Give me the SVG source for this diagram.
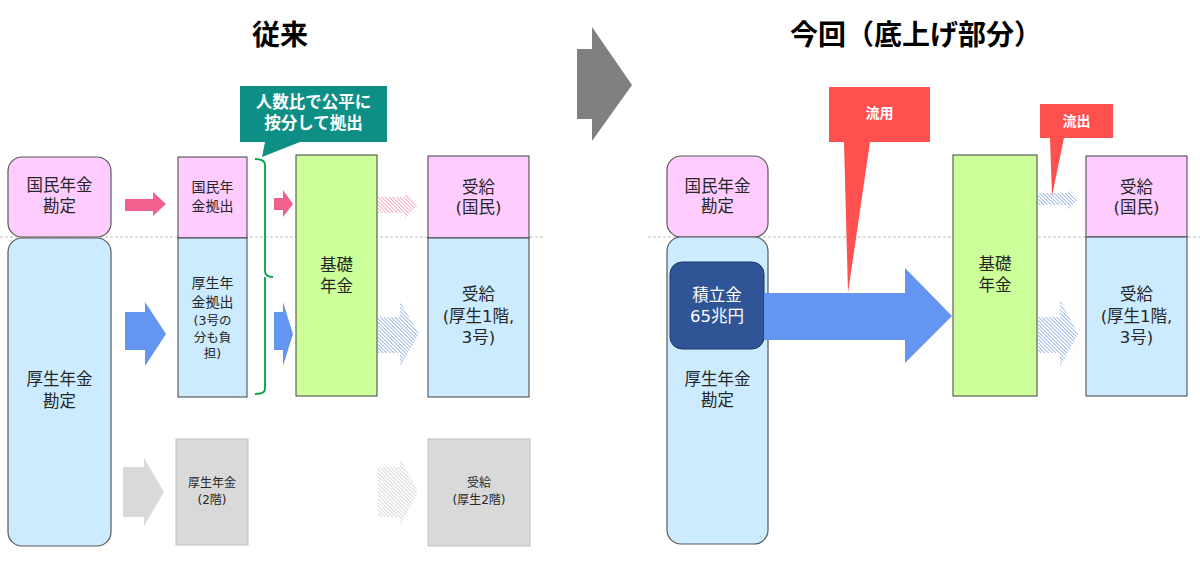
<svg xmlns="http://www.w3.org/2000/svg" width="1200" height="562" viewBox="0 0 1200 562">
<style>
text{font-family:"DejaVu Sans","Noto Sans CJK JP",sans-serif;text-anchor:middle;dominant-baseline:central;fill:#262626}
.t17{font-size:16.5px}
.t14{font-size:14px}
.t12{font-size:12.5px}
.t11{font-size:12px}
.title{font-family:"Noto Sans CJK JP",sans-serif;font-size:28px;font-weight:bold;fill:#000;dominant-baseline:auto}
.wb{fill:#fff;font-weight:bold}
.pink{fill:#FFCCFF;stroke:#404040;stroke-width:1}
.blue{fill:#CCEBFF;stroke:#404040;stroke-width:1}
.green{fill:#CCFF99;stroke:#404040;stroke-width:1}
.gray{fill:#D9D9D9;stroke:#BFBFBF;stroke-width:1}
.acct{stroke:#595959;stroke-width:1.2}
</style>
<defs>
<pattern id="hp" patternUnits="userSpaceOnUse" width="2.6" height="2.6" patternTransform="rotate(-45)"><rect width="2.6" height="2.6" fill="#fff"/><line x1="0" y1="0" x2="0" y2="2.6" stroke="#EE8AAE" stroke-width="1.4"/></pattern>
<pattern id="hb" patternUnits="userSpaceOnUse" width="2.6" height="2.6" patternTransform="rotate(-45)"><rect width="2.6" height="2.6" fill="#fff"/><line x1="0" y1="0" x2="0" y2="2.6" stroke="#7FA2DC" stroke-width="1.4"/></pattern>
<pattern id="hg" patternUnits="userSpaceOnUse" width="2.6" height="2.6" patternTransform="rotate(-45)"><rect width="2.6" height="2.6" fill="#fff"/><line x1="0" y1="0" x2="0" y2="2.6" stroke="#CACACA" stroke-width="1.4"/></pattern>
</defs>
<rect width="1200" height="562" fill="#fff"/>

<!-- titles -->
<text class="title" x="280" y="45">従来</text>
<text class="title" x="916" y="45">今回（底上げ部分）</text>

<!-- dashed separator lines -->
<line x1="0" y1="237" x2="545" y2="237" stroke="#BFBFBF" stroke-width="1" stroke-dasharray="3,2"/>
<line x1="648" y1="237" x2="1200" y2="237" stroke="#BFBFBF" stroke-width="1" stroke-dasharray="3,2"/>

<!-- big transition arrow -->
<polygon points="577,49 592,49 592,27 632,85 592,141 592,119 577,119" fill="#808080"/>

<!-- LEFT nodes -->
<g id="l-kokumin">
<rect class="pink acct" x="8" y="157" width="103" height="80" rx="14"/>
<text class="t17" x="59.5" y="185">国民年金</text>
<text class="t17" x="59.5" y="206">勘定</text>
</g>
<g id="l-kosei">
<rect class="blue acct" x="8" y="238" width="103" height="308" rx="14"/>
<text class="t17" x="59.5" y="379">厚生年金</text>
<text class="t17" x="59.5" y="401">勘定</text>
</g>
<g id="l-kokumin-kyoshutsu">
<rect class="pink" x="178" y="157" width="69" height="81"/>
<text class="t14" x="212.5" y="187">国民年</text>
<text class="t14" x="212.5" y="206">金拠出</text>
</g>
<g id="l-kosei-kyoshutsu">
<rect class="blue" x="178" y="238" width="69" height="159"/>
<text class="t14" x="212.5" y="283">厚生年</text>
<text class="t14" x="212.5" y="302">金拠出</text>
<text class="t12" x="212.5" y="320">(3号の</text>
<text class="t12" x="212.5" y="337">分も負</text>
<text class="t12" x="212.5" y="353">担)</text>
</g>
<g id="l-kiso">
<rect class="green" x="296" y="155" width="81" height="241"/>
<text class="t17" x="336.5" y="265">基礎</text>
<text class="t17" x="336.5" y="286">年金</text>
</g>
<g id="l-jukyu-kokumin">
<rect class="pink" x="428" y="156" width="101" height="82"/>
<text class="t17" x="478.5" y="187">受給</text>
<text class="t17" x="478.5" y="207">(国民)</text>
</g>
<g id="l-jukyu-kosei1">
<rect class="blue" x="428" y="238" width="101" height="159"/>
<text class="t17" x="478.5" y="294">受給</text>
<text class="t17" x="478.5" y="316">(厚生1階,</text>
<text class="t17" x="478.5" y="337">3号)</text>
</g>
<g id="l-kosei2">
<rect class="gray" x="176" y="439" width="72" height="106"/>
<text class="t11" x="212" y="483">厚生年金</text>
<text class="t11" x="212" y="500">(2階)</text>
</g>
<g id="l-jukyu-kosei2">
<rect class="gray" x="428" y="439" width="102" height="107"/>
<text class="t11" x="479" y="483">受給</text>
<text class="t11" x="479" y="500">(厚生2階)</text>
</g>
<g id="l-callout">
<polygon points="240,86 387,86 387,142 300,142 262,157 265,142 240,142" fill="#0E8F86"/>
<text class="t17 wb" x="313.5" y="102">人数比で公平に</text>
<text class="t17 wb" x="313.5" y="123">按分して拠出</text>
</g>
<g id="l-brace">
<path d="M255,159 Q265,159 265,165 L265,271 Q265,277 273,277 M265,277 Q265,277 265,283 L265,389 Q265,394 255,394" fill="none" stroke="#00A050" stroke-width="1.8"/>
</g>

<!-- RIGHT nodes -->
<g id="r-kokumin">
<rect class="pink acct" x="667" y="156" width="101" height="81" rx="14"/>
<text class="t17" x="717.5" y="186">国民年金</text>
<text class="t17" x="717.5" y="206">勘定</text>
</g>
<g id="r-kosei">
<rect class="blue acct" x="667" y="237" width="101" height="307" rx="14"/>
<text class="t17" x="717.5" y="379">厚生年金</text>
<text class="t17" x="717.5" y="400">勘定</text>
</g>
<g id="r-tsumitate">
<rect x="670" y="262" width="94" height="87" rx="12" fill="#2F5597" stroke="#1F3864" stroke-width="1"/>
<text class="t17" x="717" y="295" style="fill:#fff">積立金</text>
<text class="t17" x="717" y="316" style="fill:#fff">65兆円</text>
</g>
<g id="r-kiso">
<rect class="green" x="953" y="155" width="84" height="241"/>
<text class="t17" x="995" y="264">基礎</text>
<text class="t17" x="995" y="285">年金</text>
</g>
<g id="r-jukyu-kokumin">
<rect class="pink" x="1086" y="156" width="101" height="81"/>
<text class="t17" x="1136.5" y="187">受給</text>
<text class="t17" x="1136.5" y="207">(国民)</text>
</g>
<g id="r-jukyu-kosei1">
<rect class="blue" x="1086" y="237" width="101" height="159"/>
<text class="t17" x="1136.5" y="294">受給</text>
<text class="t17" x="1136.5" y="316">(厚生1階,</text>
<text class="t17" x="1136.5" y="337">3号)</text>
</g>

<!-- connectors -->
<g id="connectors">
<polygon points="125,199 153,199 153,192 166,204 153,216 153,211 125,211" fill="#F2608E"/>
<polygon points="125,312 145,312 145,302 166,334 145,366 145,350 125,350" fill="#6495F0"/>
<polygon points="123,467 144,467 144,458 164,492 144,526 144,517 123,517" fill="#D9D9D9"/>
<polygon points="274,198 283,198 283,190 293,204 283,217 283,210 274,210" fill="#F2608E"/>
<polygon points="274,312 283,312 283,302 293,334 283,366 283,350 274,350" fill="#6495F0"/>
<polygon points="378,197 405,197 405,192 418,205 405,218 405,213 378,213" fill="url(#hp)"/>
<polygon points="378,317 400,317 400,301 419,334 400,367 400,353 378,353" fill="url(#hb)"/>
<polygon points="378,467 400,467 400,458 418,492 400,526 400,517 378,517" fill="url(#hg)"/>
<polygon points="764,293 905,293 905,268 952,316 905,363 905,340 764,340" fill="#6495F0"/>
<polygon points="1038,193 1068,193 1068,189 1078,199 1068,210 1068,205 1038,205" fill="url(#hb)"/>
<polygon points="1038,317 1060,317 1060,300 1078,334 1060,367 1060,353 1038,353" fill="url(#hb)"/>
</g>

<!-- red callouts -->
<g id="r-callout-ryuyo">
<polygon points="829,87 930,87 930,142 870,142 848,293 844,142 829,142" fill="#FF5050"/>
<text class="t14 wb" x="879.5" y="113">流用</text>
</g>
<g id="r-callout-ryushutsu">
<polygon points="1040,104 1113,104 1113,138 1064,138 1052,196 1050,138 1040,138" fill="#FF5050"/>
<text class="t14 wb" x="1076.5" y="121">流出</text>
</g>
</svg>
